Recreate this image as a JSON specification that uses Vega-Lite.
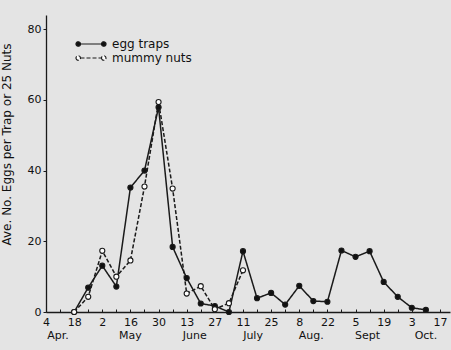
{
  "$schema": "https://vega.github.io/schema/vega-lite/v6.json",
  "width": 404,
  "height": 297,
  "autosize": {"type": "none"},
  "padding": {"left": 46, "top": 15, "right": 1, "bottom": 38},
  "background": "#e4e4e4",
  "config": {
    "view": {"stroke": null, "fill": "#e4e4e4"},
    "font": "DejaVu Sans",
    "axis": {
      "labelFont": "DejaVu Sans",
      "titleFont": "DejaVu Sans",
      "labelColor": "#111111",
      "titleColor": "#111111",
      "domainColor": "#1a1a1a",
      "tickColor": "#1a1a1a",
      "domainWidth": 1.3,
      "tickWidth": 1,
      "grid": false,
      "labelFontSize": 11
    },
    "legend": {
      "title": null,
      "orient": "none",
      "legendX": 39,
      "legendY": 23,
      "padding": 0,
      "symbolType": "M-2.1,0L2.1,0M-3,0A0.45,0.45 0 1,0 -2.1,0A0.45,0.45 0 1,0 -3,0ZM2.1,0A0.45,0.45 0 1,0 3,0A0.45,0.45 0 1,0 2.1,0Z",
      "symbolSize": 100,
      "symbolStrokeColor": "#1a1a1a",
      "symbolStrokeWidth": 1.2,
      "symbolOpacity": 1,
      "labelFont": "DejaVu Sans",
      "labelFontSize": 12,
      "labelColor": "#111111",
      "labelOffset": 15,
      "rowPadding": 2,
      "encode": {
        "symbols": {
          "update": {
            "fill": [
              {"test": "datum.value === 'mummy nuts'", "value": "#ffffff"},
              {"value": "#111111"}
            ],
            "stroke": {"value": "#1a1a1a"}
          }
        }
      }
    }
  },
  "datasets": {
    "series": [
      {"date": "1957-04-18T00:00:00", "trap": "egg traps", "eggs": 0},
      {"date": "1957-04-25T00:00:00", "trap": "egg traps", "eggs": 6.9},
      {"date": "1957-05-02T00:00:00", "trap": "egg traps", "eggs": 13.1},
      {"date": "1957-05-09T00:00:00", "trap": "egg traps", "eggs": 7.2},
      {"date": "1957-05-16T00:00:00", "trap": "egg traps", "eggs": 35.2},
      {"date": "1957-05-23T00:00:00", "trap": "egg traps", "eggs": 40},
      {"date": "1957-05-30T00:00:00", "trap": "egg traps", "eggs": 57.9},
      {"date": "1957-06-06T00:00:00", "trap": "egg traps", "eggs": 18.4},
      {"date": "1957-06-13T00:00:00", "trap": "egg traps", "eggs": 9.6},
      {"date": "1957-06-20T00:00:00", "trap": "egg traps", "eggs": 2.4},
      {"date": "1957-06-27T00:00:00", "trap": "egg traps", "eggs": 1.7},
      {"date": "1957-07-04T00:00:00", "trap": "egg traps", "eggs": 0},
      {"date": "1957-07-11T00:00:00", "trap": "egg traps", "eggs": 17.2},
      {"date": "1957-07-18T00:00:00", "trap": "egg traps", "eggs": 3.9},
      {"date": "1957-07-25T00:00:00", "trap": "egg traps", "eggs": 5.4},
      {"date": "1957-08-01T00:00:00", "trap": "egg traps", "eggs": 2.1},
      {"date": "1957-08-08T00:00:00", "trap": "egg traps", "eggs": 7.4},
      {"date": "1957-08-15T00:00:00", "trap": "egg traps", "eggs": 3.1},
      {"date": "1957-08-22T00:00:00", "trap": "egg traps", "eggs": 2.9},
      {"date": "1957-08-29T00:00:00", "trap": "egg traps", "eggs": 17.4},
      {"date": "1957-09-05T00:00:00", "trap": "egg traps", "eggs": 15.6},
      {"date": "1957-09-12T00:00:00", "trap": "egg traps", "eggs": 17.2},
      {"date": "1957-09-19T00:00:00", "trap": "egg traps", "eggs": 8.5},
      {"date": "1957-09-26T00:00:00", "trap": "egg traps", "eggs": 4.3},
      {"date": "1957-10-03T00:00:00", "trap": "egg traps", "eggs": 1.2},
      {"date": "1957-10-10T00:00:00", "trap": "egg traps", "eggs": 0.6},
      {"date": "1957-04-18T00:00:00", "trap": "mummy nuts", "eggs": 0},
      {"date": "1957-04-25T00:00:00", "trap": "mummy nuts", "eggs": 4.3},
      {"date": "1957-05-02T00:00:00", "trap": "mummy nuts", "eggs": 17.3},
      {"date": "1957-05-09T00:00:00", "trap": "mummy nuts", "eggs": 10},
      {"date": "1957-05-16T00:00:00", "trap": "mummy nuts", "eggs": 14.6},
      {"date": "1957-05-23T00:00:00", "trap": "mummy nuts", "eggs": 35.5},
      {"date": "1957-05-30T00:00:00", "trap": "mummy nuts", "eggs": 59.4},
      {"date": "1957-06-06T00:00:00", "trap": "mummy nuts", "eggs": 34.9},
      {"date": "1957-06-13T00:00:00", "trap": "mummy nuts", "eggs": 5.2},
      {"date": "1957-06-20T00:00:00", "trap": "mummy nuts", "eggs": 7.3},
      {"date": "1957-06-27T00:00:00", "trap": "mummy nuts", "eggs": 0.8},
      {"date": "1957-07-04T00:00:00", "trap": "mummy nuts", "eggs": 2.5},
      {"date": "1957-07-11T00:00:00", "trap": "mummy nuts", "eggs": 11.8}
    ],
    "months": [
      {"date": "1957-04-10T00:00:00", "month": "Apr."},
      {"date": "1957-05-16T00:00:00", "month": "May"},
      {"date": "1957-06-17T00:00:00", "month": "June"},
      {"date": "1957-07-16T00:00:00", "month": "July"},
      {"date": "1957-08-14T00:00:00", "month": "Aug."},
      {"date": "1957-09-11T00:00:00", "month": "Sept"},
      {"date": "1957-10-10T00:00:00", "month": "Oct."}
    ]
  },
  "encoding": {
    "x": {
      "field": "date",
      "type": "temporal",
      "scale": {
        "domain": [
          {"year": 1957, "month": 4, "date": 4},
          {"year": 1957, "month": 10, "date": 22}
        ]
      },
      "axis": {
        "title": null,
        "values": [
          {"year": 1957, "month": 4, "date": 4},
          {"year": 1957, "month": 4, "date": 11},
          {"year": 1957, "month": 4, "date": 18},
          {"year": 1957, "month": 4, "date": 25},
          {"year": 1957, "month": 5, "date": 2},
          {"year": 1957, "month": 5, "date": 9},
          {"year": 1957, "month": 5, "date": 16},
          {"year": 1957, "month": 5, "date": 23},
          {"year": 1957, "month": 5, "date": 30},
          {"year": 1957, "month": 6, "date": 6},
          {"year": 1957, "month": 6, "date": 13},
          {"year": 1957, "month": 6, "date": 20},
          {"year": 1957, "month": 6, "date": 27},
          {"year": 1957, "month": 7, "date": 4},
          {"year": 1957, "month": 7, "date": 11},
          {"year": 1957, "month": 7, "date": 18},
          {"year": 1957, "month": 7, "date": 25},
          {"year": 1957, "month": 8, "date": 1},
          {"year": 1957, "month": 8, "date": 8},
          {"year": 1957, "month": 8, "date": 15},
          {"year": 1957, "month": 8, "date": 22},
          {"year": 1957, "month": 8, "date": 29},
          {"year": 1957, "month": 9, "date": 5},
          {"year": 1957, "month": 9, "date": 12},
          {"year": 1957, "month": 9, "date": 19},
          {"year": 1957, "month": 9, "date": 26},
          {"year": 1957, "month": 10, "date": 3},
          {"year": 1957, "month": 10, "date": 10},
          {"year": 1957, "month": 10, "date": 17}
        ],
        "labelExpr": "round((toNumber(datum.value) - toNumber(datetime(1957,3,4))) / 86400000) % 14 == 0 ? timeFormat(datum.value, '%-d') : ''",
        "tickSize": -3,
        "labelPadding": 7,
        "labelFlush": false,
        "labelOverlap": false
      }
    }
  },
  "layer": [
    {
      "data": {"name": "series"},
      "mark": {"type": "line", "strokeWidth": 1.5, "color": "#1a1a1a"},
      "encoding": {
        "y": {
          "field": "eggs",
          "type": "quantitative",
          "scale": {"domain": [0, 84], "nice": false},
          "axis": {
            "title": "Ave. No. Eggs per Trap or 25 Nuts",
            "titleFontSize": 12,
            "titleFontWeight": "normal",
            "titleY": 129,
            "titlePadding": 14,
            "values": [0, 10, 20, 30, 40, 50, 60, 70, 80],
            "labelExpr": "datum.value % 20 == 0 ? datum.label : ''",
            "tickSize": 3,
            "labelPadding": 2
          }
        },
        "strokeDash": {
          "field": "trap",
          "type": "nominal",
          "scale": {"domain": ["egg traps", "mummy nuts"], "range": [[1, 0], [4, 2]]}
        }
      }
    },
    {
      "data": {"name": "series"},
      "mark": {"type": "point", "filled": false, "size": 26, "strokeWidth": 1.1, "stroke": "#1a1a1a", "opacity": 1},
      "encoding": {
        "y": {"field": "eggs", "type": "quantitative"},
        "fill": {
          "field": "trap",
          "type": "nominal",
          "scale": {"domain": ["egg traps", "mummy nuts"], "range": ["#111111", "#ffffff"]}
        }
      }
    },
    {
      "data": {"name": "months"},
      "mark": {"type": "text", "fontSize": 11, "font": "DejaVu Sans", "color": "#111111", "baseline": "middle", "dy": 24},
      "encoding": {
        "y": {"datum": 0, "type": "quantitative"},
        "text": {"field": "month"}
      }
    }
  ]
}
